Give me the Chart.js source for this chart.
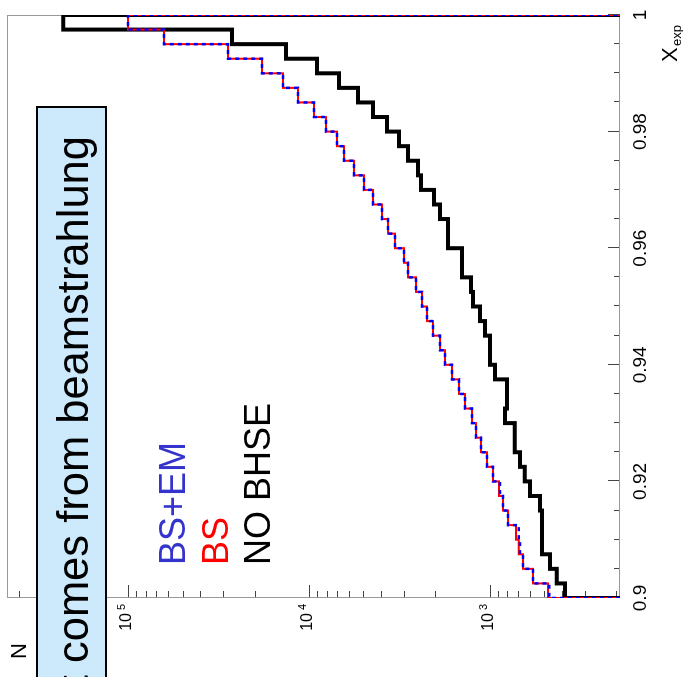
<!DOCTYPE html>
<html>
<head>
<meta charset="utf-8">
<script src="https://cdn.jsdelivr.net/npm/chart.js@4/dist/chart.umd.min.js"></script>
<style>
  html, body { margin: 0; padding: 0; background: #fff; overflow: hidden; }
  /* the plot is drawn upright, then turned a quarter turn to the left like the slide */
  #wrap { position: absolute; left: 0; top: 0; width: 677px; height: 683px;
          transform-origin: 0 0; transform: translateY(677px) rotate(-90deg); }
</style>
</head>
<body>
<div id="wrap"><canvas id="chart" width="677" height="683"></canvas></div>
<script>
// histogram binning in X_exp
const xStart = 0.9;
const binWidth = 0.0025;
const xEdges = Array.from({ length: 41 }, (_, i) => +(xStart + i * binWidth).toFixed(4));

// entries per bin
const noBhse = [385, 427, 466, 516, 516, 516, 529, 601, 641, 683, 728, 728, 826, 805, 805, 938, 1000, 1000, 1066, 1136,
    1241, 1273, 1428, 1428, 1706, 1706, 1889, 2038, 2405, 2500, 2838, 3184, 3707, 4430, 5358, 6824, 9031, 13400, 26620, 228600];
const bs = [478, 578, 657, 692, 718, 795, 848, 892, 963, 1039, 1121, 1195, 1257, 1374, 1483, 1622, 1774, 1889, 2065, 2229,
    2376, 2563, 2838, 2985, 3348, 3661, 3951, 4430, 4969, 5640, 6405, 7004, 8054, 9381, 11500, 13930, 18190, 28040, 63240, 100000];
const bsEm = [470, 578, 657, 683, 692, 795, 848, 880, 963, 1039, 1121, 1195, 1257, 1374, 1483, 1622, 1774, 1889, 2065, 2229,
    2376, 2563, 2838, 2985, 3348, 3661, 3951, 4430, 4969, 5640, 6405, 7004, 8054, 9381, 11500, 13930, 18190, 28040, 63240, 100000];

const xTickLabels = [0.9, 0.92, 0.94, 0.96, 0.98, 1];
const yDecades = [3, 4, 5];
const nMin = 191, nMax = 467000;

const legendNames = ['BS+EM', 'BS', 'NO BHSE'];
const legendColors = ['#3434cc', '#ff0000', '#000000'];
const boxText = 'effect comes from beamstrahlung';

// ROOT-like step outline: from the axis floor, across every bin, back down to the floor
function outline(values) {
    const pts = [{ x: xEdges[0], y: nMin }];
    values.forEach((v, i) => {
        pts.push({ x: xEdges[i], y: v }, { x: xEdges[i + 1], y: v });
    });
    pts.push({ x: xEdges[xEdges.length - 1], y: nMin });
    return pts;
}

const FONT = "'Liberation Sans', Arial, sans-serif";

const rootFrame = {
    id: 'rootFrame',
    beforeDatasetsDraw(chart) {
        const { ctx, chartArea: a, scales: { x, y } } = chart;
        ctx.save();
        ctx.strokeStyle = '#444';
        ctx.lineWidth = 1;
        ctx.beginPath();
        for (let k = 0; k <= 20; k++) {
            const px = Math.round(x.getPixelForValue(xStart + k * 0.005)) + 0.5;
            const len = k % 4 === 0 ? 12 : 6;
            ctx.moveTo(px, a.bottom);
            ctx.lineTo(px, a.bottom - len);
        }
        for (let d = 2; d <= 5; d++) {
            for (let m = 1; m <= 9; m++) {
                const v = m * Math.pow(10, d);
                if (v < nMin || v > nMax) continue;
                const py = Math.round(y.getPixelForValue(v)) + 0.5;
                ctx.moveTo(a.left, py);
                ctx.lineTo(a.left + (m === 1 ? 13 : 7), py);
            }
        }
        ctx.stroke();
        ctx.strokeStyle = '#999';
        ctx.strokeRect(a.left + 0.5, a.top + 0.5, a.right - a.left - 1, a.bottom - a.top - 1);
        ctx.restore();
    },
    afterDraw(chart) {
        const { ctx, chartArea: a, scales: { y } } = chart;
        ctx.save();
        ctx.textBaseline = 'alphabetic';
        ctx.fillStyle = '#000';

        // log axis labels 10^n
        yDecades.forEach(d => {
            const py = y.getPixelForValue(Math.pow(10, d));
            ctx.textAlign = 'right';
            ctx.font = '16px ' + FONT;
            ctx.fillText('10', a.left - 15, py + 3);
            ctx.textAlign = 'left';
            ctx.font = '11px ' + FONT;
            ctx.fillText(String(d), a.left - 12, py - 3);
        });

        // axis titles
        ctx.textAlign = 'left';
        ctx.font = '22px ' + FONT;
        ctx.fillText('N', 18, 26);
        ctx.fillText('X', 615, 677);
        ctx.font = '13px ' + FONT;
        ctx.fillText('exp', 631, 681);

        // legend
        ctx.font = '36px ' + FONT;
        [185, 228, 270].forEach((base, i) => {
            ctx.fillStyle = legendColors[i];
            ctx.fillText(legendNames[i], 112, base);
        });

        // comment box
        ctx.fillStyle = '#cdeafd';
        ctx.fillRect(-10, 37, 580, 69);
        ctx.strokeStyle = '#000';
        ctx.lineWidth = 2;
        ctx.strokeRect(-10, 37, 580, 69);
        ctx.fillStyle = '#000';
        ctx.font = '43.5px ' + FONT;
        ctx.textAlign = 'right';
        ctx.fillText(boxText, 541, 88);
        ctx.restore();
    }
};

new Chart(document.getElementById('chart'), {
    type: 'line',
    data: {
        datasets: [
            { label: legendNames[0], data: outline(bsEm), borderColor: '#0000ff', borderWidth: 2.5, borderDash: [4, 4] },
            { label: legendNames[1], data: outline(bs), borderColor: '#ff0000', borderWidth: 2 },
            { label: legendNames[2], data: outline(noBhse), borderColor: '#000000', borderWidth: 4 },
        ],
    },
    options: {
        responsive: false,
        animation: false,
        layout: { padding: { top: 7, right: 15, left: 0, bottom: 0 } },
        elements: {
            point: { radius: 0 },
            line: { tension: 0, fill: false, borderJoinStyle: 'miter', borderCapStyle: 'butt' },
        },
        datasets: { line: { clip: 0 } },
        plugins: { legend: { display: false }, tooltip: { enabled: false } },
        scales: {
            x: {
                type: 'linear',
                min: 0.9,
                max: 1.0,
                grid: { display: false, drawTicks: false },
                border: { display: false },
                afterFit: s => { s.height = 63; },
                afterBuildTicks: s => { s.ticks = xTickLabels.map(v => ({ value: v })); },
                ticks: {
                    autoSkip: false,
                    maxRotation: 0,
                    padding: 9,
                    color: '#000',
                    font: { family: FONT, size: 19 },
                    callback: v => String(+v.toFixed(2)),
                },
            },
            y: {
                type: 'logarithmic',
                min: nMin,
                max: nMax,
                grid: { display: false, drawTicks: false },
                border: { display: false },
                ticks: { display: false },
                afterFit: s => { s.width = 79; },
            },
        },
    },
    plugins: [rootFrame],
});
</script>
</body>
</html>
